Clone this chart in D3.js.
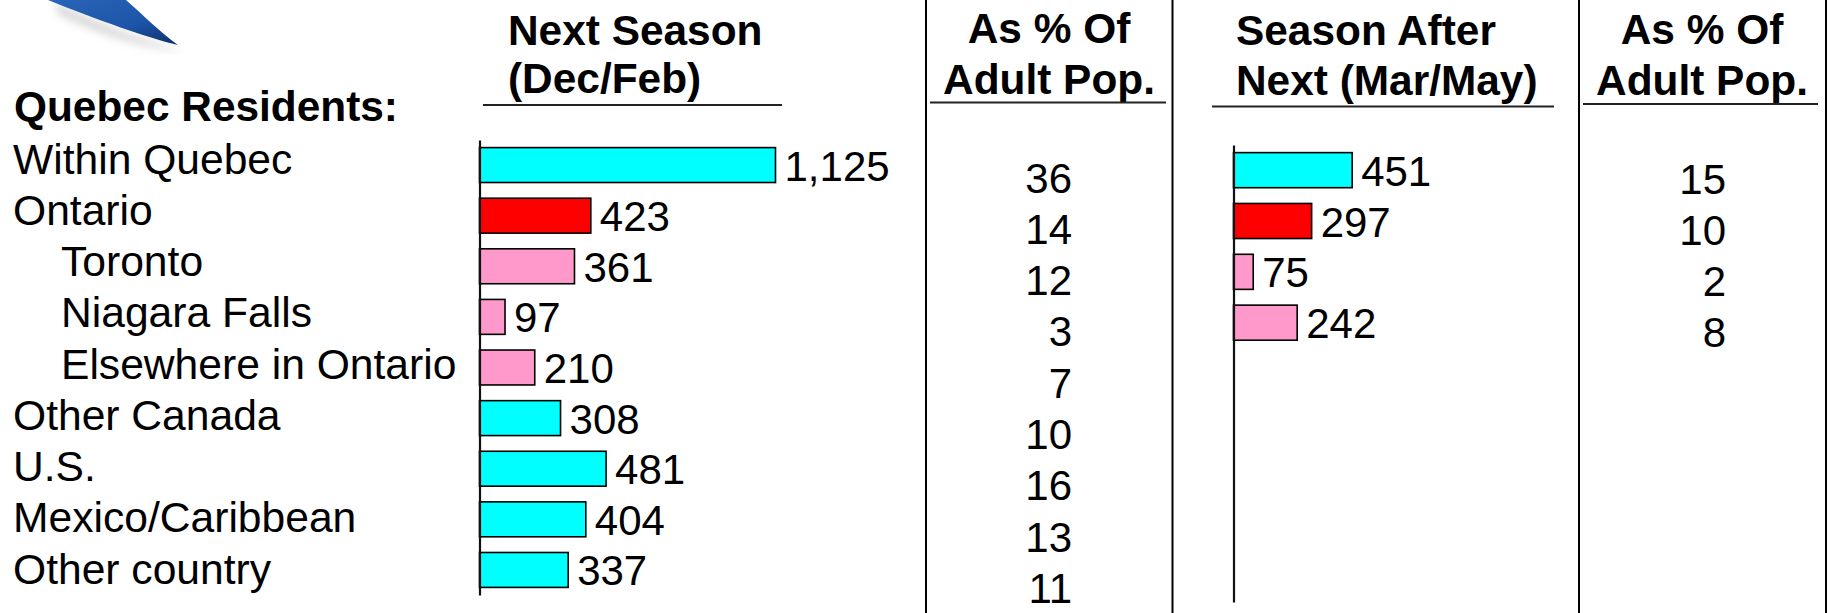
<!DOCTYPE html>
<html>
<head>
<meta charset="utf-8">
<script src="https://cdn.jsdelivr.net/npm/d3@7"></script>
<style>
	html, body { margin:0; padding:0; background:#fff; }
	svg { display:block; font-family: "Liberation Sans", Arial, sans-serif; }
	.cat { font-size:42.6px; }
	.head { font-size:42.4px; font-weight:bold; }
	.val { font-size:42px; }
</style>
</head>
<body>
<div id="chart"></div>
<script>
// values
var categories = ["Within Quebec", "Ontario", "Toronto", "Niagara Falls", "Elsewhere in Ontario",
				"Other Canada", "U.S.", "Mexico/Caribbean", "Other country"];
var subCategories = ["Toronto", "Niagara Falls", "Elsewhere in Ontario"];
var groups = ["other", "ontario", "sub", "sub", "sub", "other", "other", "other", "other"];
var nextSeason = [1125, 423, 361, 97, 210, 308, 481, 404, 337];
var nextSeasonPct = [36, 14, 12, 3, 7, 10, 16, 13, 11];
var afterNext = [451, 297, 75, 242];
var afterNextPct = [15, 10, 2, 8];
var headers = [["Next Season", "(Dec/Feb)"], ["As % Of", "Adult Pop."],
			["Season After", "Next (Mar/May)"], ["As % Of", "Adult Pop."]];
var sectionTitle = "Quebec Residents:";

var W = 1830, H = 613;
var svg = d3.select('#chart').append('svg')
			.attr('width', W)
			.attr('height', H);

var color = d3.scaleOrdinal()
				.domain(["other", "ontario", "sub"])
				.range(["#00ffff", "#ff0000", "#ff99cc"]);

// little swoosh logo, top left
var defs = svg.append('defs');
var grad = defs.append('linearGradient').attr('id', 'sw').attr('x1', 0).attr('y1', 0).attr('x2', 1).attr('y2', 1);
grad.append('stop').attr('offset', 0).attr('stop-color', '#2a64b8');
grad.append('stop').attr('offset', 0.6).attr('stop-color', '#1d56a8');
grad.append('stop').attr('offset', 1).attr('stop-color', '#0d2f6a');
defs.append('filter').attr('id', 'blur').append('feGaussianBlur').attr('stdDeviation', 4);
svg.append('path')
	.attr('d', 'M55,2 C95,22 140,40 182,50 C150,50 100,35 58,14 Z')
	.attr('fill', '#bbb').attr('opacity', 0.6).attr('filter', 'url(#blur)');
svg.append('path')
	.attr('d', 'M48,0 L126,0 C142,14 160,32 178,45 C148,38 98,20 48,0 Z')
	.attr('fill', 'url(#sw)');

// row labels
var labelY = d3.scalePoint().domain(categories).range([173.5, 583.5]);
svg.append('text')
	.attr('class', 'head')
	.attr('x', 14).attr('y', 121)
	.text(sectionTitle);
svg.append('g')
	.selectAll('text')
	.data(categories)
	.enter()
	.append('text')
		.attr('class', 'cat')
		.attr('x', d => subCategories.includes(d) ? 61 : 13)
		.attr('y', d => labelY(d))
		.text(d => d);

// shared value scale for both bar panels
var x = d3.scaleLinear().domain([0, 1125]).range([0, 296]);
var fmt = d3.format(",");

function drawBars(vals, x0, y0, y1) {
	var y = d3.scaleBand()
				.domain(d3.range(categories.length))
				.range([y0, y1])
				.paddingInner(0.31)
				.paddingOuter(0.15);
	var g = svg.append('g').attr('transform', 'translate(' + x0 + ',0)');
	g.selectAll('rect')
		.data(vals)
		.enter()
		.append('rect')
			.attr('x', 0)
			.attr('y', (d, i) => y(i))
			.attr('width', d => x(d))
			.attr('height', y.bandwidth())
			.attr('fill', (d, i) => color(groups[i]))
			.attr('stroke', '#000')
			.attr('stroke-width', 1.6);
	g.selectAll('text')
		.data(vals)
		.enter()
		.append('text')
			.attr('class', 'val')
			.attr('x', d => x(d) + 9)
			.attr('y', (d, i) => y(i) + y.bandwidth() / 2)
			.attr('dy', '0.37em')
			.text(d => fmt(d));
	g.append('g')
		.call(d3.axisLeft(y).tickSize(0).tickSizeOuter(0).tickFormat(''))
		.call(a => a.select('.domain').attr('stroke', '#111').attr('stroke-width', 2.2));
}

drawBars(nextSeason, 479.5, 140, 595);
drawBars(afterNext, 1233.5, 145, 602);

// percent columns
function drawPct(vals, xr, y0) {
	var y = d3.scalePoint().domain(d3.range(nextSeasonPct.length)).range([y0, y0 + 410.5]);
	svg.append('g')
		.selectAll('text')
		.data(vals)
		.enter()
		.append('text')
			.attr('class', 'val')
			.attr('text-anchor', 'end')
			.attr('x', xr)
			.attr('y', (d, i) => y(i))
			.text(d => d);
}
drawPct(nextSeasonPct, 1072, 192.5);
drawPct(afterNextPct, 1726, 193.5);

// column headers with underlines
var headPos = [
	{x:508, anchor:'start', y:[45, 93], line:[483, 782, 105]},
	{x:1049, anchor:'middle', y:[43, 94], line:[930, 1166, 102.5]},
	{x:1236, anchor:'start', y:[45, 95], line:[1212, 1554, 106.5]},
	{x:1702, anchor:'middle', y:[44, 95], line:[1583, 1818, 104]}
];
headers.forEach(function(h, i) {
	var p = headPos[i];
	svg.append('g')
		.selectAll('text')
		.data(h)
		.enter()
		.append('text')
			.attr('class', 'head')
			.attr('text-anchor', p.anchor)
			.attr('x', p.x)
			.attr('y', (d, j) => p.y[j])
			.text(d => d);
	svg.append('line')
		.attr('x1', p.line[0]).attr('x2', p.line[1])
		.attr('y1', p.line[2]).attr('y2', p.line[2])
		.attr('stroke', '#222').attr('stroke-width', 2);
});

// column dividers
svg.append('g')
	.selectAll('line')
	.data([926, 1172.5, 1579, 1826])
	.enter()
	.append('line')
		.attr('x1', d => d).attr('x2', d => d)
		.attr('y1', 0).attr('y2', H)
		.attr('stroke', '#000')
		.attr('stroke-width', 2);
</script>
</body>
</html>
